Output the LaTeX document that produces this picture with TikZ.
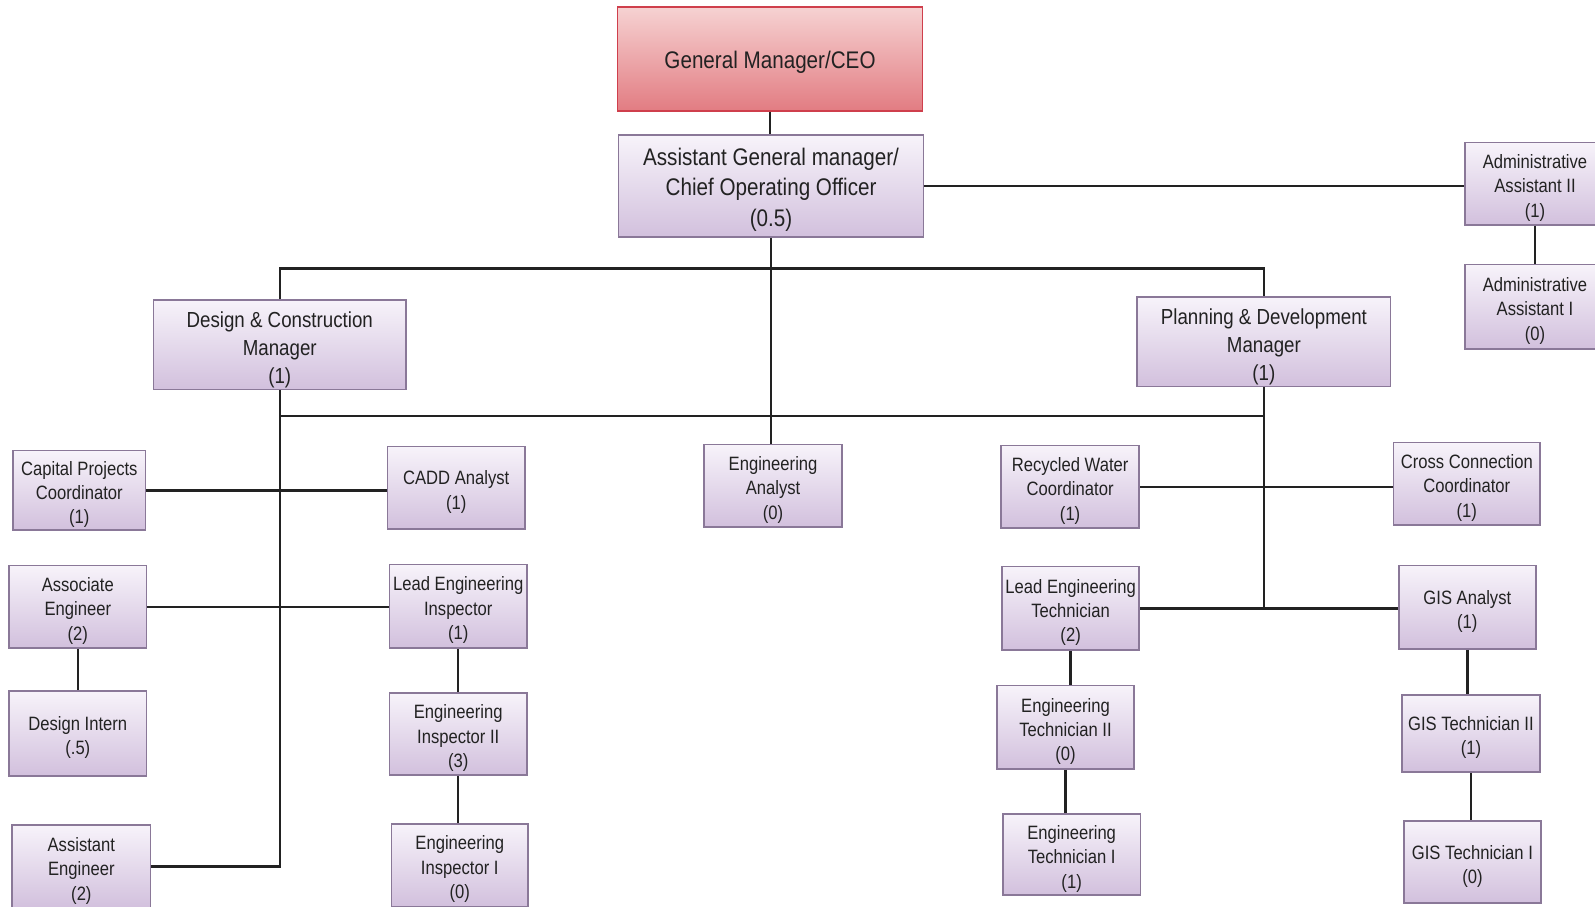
\documentclass[tikz,border=0pt]{standalone}
\usepackage{fontspec}
\setmainfont{Liberation Sans}[FakeStretch=0.86]
\definecolor{boxtop}{HTML}{F7F3FA}
\definecolor{boxbot}{HTML}{D2C0DD}
\definecolor{boxedge}{HTML}{8A7898}
\definecolor{ceotop}{HTML}{F6D2D2}
\definecolor{ceobot}{HTML}{E27C82}
\definecolor{ceoedge}{HTML}{CF3F4C}
\definecolor{ink}{HTML}{222222}
\newcommand\lift{1.15em}
\tikzset{
  role/.style={draw=boxedge, line width=0.8pt, top color=boxtop, bottom color=boxbot,
    align=center, inner sep=0pt, text=ink, font=\fontsize{9.5}{12}\selectfont},
  bigrole/.style={role, font=\fontsize{11.8}{15}\selectfont},
  midrole/.style={role, font=\fontsize{10.7}{13.75}\selectfont},
  ceorole/.style={bigrole, draw=ceoedge, top color=ceotop, bottom color=ceobot},
  link/.style={draw=ink, line width=1.2pt},
}
% \orgbox[style]{name}{x1}{y1}{x2}{y2}{text}: box given by its corners;
% the strut on the first line sets the text slightly below the centre
\newcommand\orgbox[7][role]{%
  \node[#1, minimum width={(#5-#3)*0.5pt}, minimum height={(#6-#4)*0.5pt}]
    (#2) at ({(#3+#5)/2},{(#4+#6)/2}) {\rule{0pt}{\lift}#7};}
\begin{document}
\begin{tikzpicture}[x=0.5pt, y=-0.5pt]
\useasboundingbox[fill=white] (0,0) rectangle (1568,891);

% top of the chart
\renewcommand\lift{1.0em}
\orgbox[ceorole]{ceo}{607}{7}{907}{109}{General Manager/CEO}
\orgbox[bigrole]{agm}{608}{133}{908}{233}{Assistant General manager/\\Chief Operating Officer\\(0.5)}
\renewcommand\lift{1.15em}
\orgbox{adm2}{1440}{140}{1578}{221}{Administrative\\Assistant II\\(1)}
\orgbox{adm1}{1440}{260}{1578}{343}{Administrative\\Assistant I\\(0)}

% managers
\orgbox[midrole]{dcm}{151}{295}{399}{383}{Design \& Construction\\Manager\\(1)}
\orgbox[midrole]{pdm}{1118}{292}{1367}{380}{Planning \& Development\\Manager\\(1)}

% design and construction staff
\orgbox{cpc}{13}{443}{143}{521}{Capital Projects\\Coordinator\\(1)}
\orgbox{cadd}{381}{439}{516}{520}{CADD Analyst\\(1)}
\orgbox{asoc}{9}{556}{144}{637}{Associate\\Engineer\\(2)}
\orgbox{lei}{383}{555}{518}{637}{Lead Engineering\\Inspector\\(1)}
\orgbox{intern}{9}{679}{144}{763}{Design Intern\\(.5)}
\orgbox{ei2}{383}{681}{518}{762}{Engineering\\Inspector II\\(3)}
\orgbox{asst}{12}{811}{148}{893}{Assistant\\Engineer\\(2)}
\orgbox{ei1}{385}{810}{519}{891}{Engineering\\Inspector I\\(0)}

% engineering analyst
\orgbox{ea}{692}{437}{828}{518}{Engineering\\Analyst\\(0)}

% planning and development staff
\orgbox{rwc}{984}{438}{1120}{519}{Recycled Water\\Coordinator\\(1)}
\orgbox{ccc}{1370}{435}{1514}{516}{Cross Connection\\Coordinator\\(1)}
\orgbox{let}{985}{557}{1120}{639}{Lead Engineering\\Technician\\(2)}
\orgbox{gisa}{1375}{556}{1510}{638}{GIS Analyst\\(1)}
\orgbox{et2}{980}{674}{1115}{756}{Engineering\\Technician II\\(0)}
\orgbox{gist2}{1378}{683}{1514}{759}{GIS Technician II\\(1)}
\orgbox{et1}{986}{800}{1121}{880}{Engineering\\Technician I\\(1)}
\orgbox{gist1}{1380}{807}{1515}{888}{GIS Technician I\\(0)}

% reporting lines
\coordinate (bar1) at (758,264);
\coordinate (bar2) at (760,409);
\path[link] (ceo.south) -- (ceo.south |- agm.north);
\path[link] (agm.east) -- (agm.east -| adm2.west);
\path[link] (adm2.south) -- (adm1.north);
\path[link] (agm.south) -- (agm.south |- ea.north);
\path[link] (dcm.north) |- (bar1) -| (pdm.north);
\path[link] (dcm.south |- bar2) -- (pdm.south |- bar2);
\path[link] (dcm.south) |- (asst.east);
\path[link] (pdm.south) -- (pdm.south |- let.east);
\path[link] (cpc.east) -- (cpc.east -| cadd.west);
\path[link] (asoc.east) -- (asoc.east -| lei.west);
\path[link] (asoc.south) -- (asoc.south |- intern.north);
\path[link] (lei.south) -- (lei.south |- ei2.north);
\path[link] (ei2.south) -- (ei2.south |- ei1.north);
\path[link] (rwc.east) -- (rwc.east -| ccc.west);
\path[link] (let.east) -- (let.east -| gisa.west);
\path[link] (let.south) -- (let.south |- et2.north);
\path[link] (et2.south) -- (et2.south |- et1.north);
\path[link] (gisa.south) -- (gisa.south |- gist2.north);
\path[link] (gist2.south) -- (gist2.south |- gist1.north);
\end{tikzpicture}
\end{document}
